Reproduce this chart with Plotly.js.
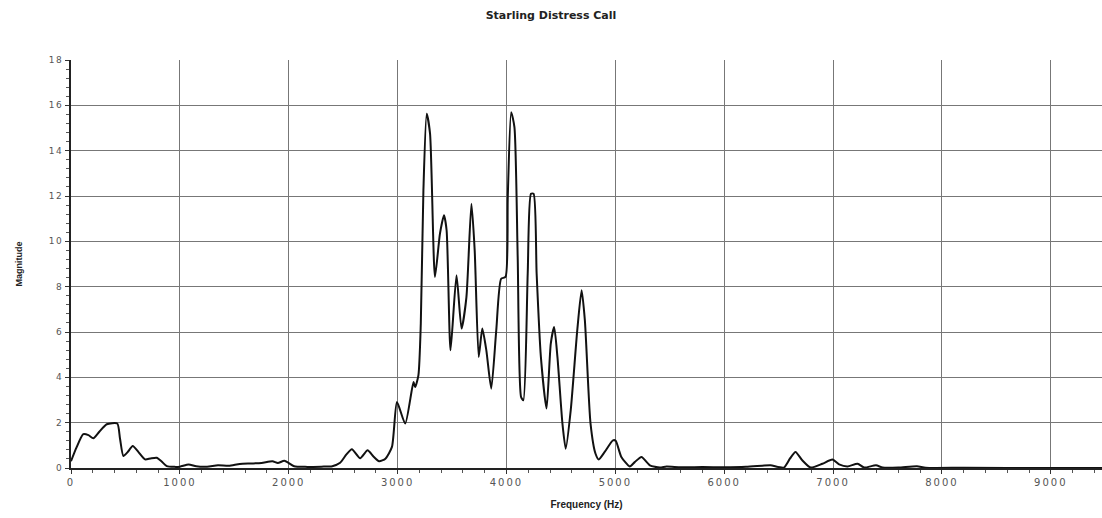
<!DOCTYPE html>
<html>
<head>
<meta charset="utf-8">
<script src="https://cdn.plot.ly/plotly-3.0.1.min.js"></script>
<style>
  html, body { margin: 0; padding: 0; background: #fff; }
  #chart { width: 1102px; height: 518px; }
  /* widen the tick numerals a little */
  #chart .xtick text { letter-spacing: 2px; }
  #chart .ytick text { letter-spacing: 1.5px; }
</style>
</head>
<body>
<div id="chart"></div>
<script>
// Frequency spectrum of a starling distress call
const freqHz = [
  0, 50, 113, 160, 205, 260, 328, 425, 450, 481, 520, 567, 620, 680, 730, 787, 830, 880, 950,
  1000, 1080, 1150, 1250, 1350, 1450, 1550, 1650, 1750, 1850, 1900, 1960, 2050, 2150, 2300, 2400,
  2472, 2530, 2580, 2656, 2724, 2780, 2830, 2888, 2948, 2994, 3070, 3146, 3161, 3191, 3213, 3237,
  3267, 3298, 3343, 3389, 3426, 3450, 3486, 3541, 3587, 3632, 3678, 3708, 3745, 3778, 3815, 3860,
  3906, 3951, 3991, 4012, 4043, 4073, 4103, 4134, 4155, 4195, 4225, 4249, 4277, 4316, 4368, 4407,
  4438, 4468, 4514, 4544, 4590, 4650, 4690, 4720, 4772, 4818, 4848, 4902, 4978, 5003, 5055, 5132,
  5178, 5240, 5317, 5409, 5470, 5600, 5800, 6000, 6200, 6350, 6425, 6548, 6603, 6655, 6717, 6794,
  6902, 6994, 7055, 7132, 7225, 7286, 7394, 7455, 7600, 7770, 7850, 8200, 9000, 9470
];
const magnitude = [
  0.3, 0.9, 1.49, 1.45, 1.31, 1.6, 1.93, 1.96, 1.3, 0.53, 0.7, 0.97, 0.7, 0.38, 0.42, 0.45, 0.3, 0.08, 0.05,
  0.06, 0.15, 0.08, 0.06, 0.12, 0.1, 0.18, 0.2, 0.22, 0.3, 0.22, 0.32, 0.08, 0.05, 0.06, 0.08,
  0.23, 0.6, 0.83, 0.43, 0.78, 0.5, 0.3, 0.41, 0.93, 2.91, 1.96, 3.79, 3.57, 4.09, 6.37, 12.25,
  15.63, 14.75, 8.43, 10.34, 11.15, 10.49, 5.19, 8.5, 6.15, 7.54, 11.66, 9.6, 4.9, 6.15, 5.19, 3.5,
  6.07, 8.35, 8.43, 12.0, 15.7, 15.04, 9.31, 3.13, 2.99, 8.57, 12.1, 12.1, 8.57, 4.9, 2.62, 5.49,
  6.22, 4.9, 1.96, 0.85, 2.54, 6.07, 7.84, 6.51, 1.96, 0.63, 0.38, 0.71, 1.22, 1.2, 0.49, 0.07,
  0.26, 0.49, 0.12, 0.02, 0.07, 0.03, 0.04, 0.03, 0.05, 0.1, 0.12, 0.02, 0.41, 0.71, 0.34, 0.02,
  0.19, 0.37, 0.16, 0.07, 0.19, 0.02, 0.12, 0.02, 0.02, 0.08, 0.01, 0.01, 0.0, 0.0
];
const xTicks = [0, 1000, 2000, 3000, 4000, 5000, 6000, 7000, 8000, 9000];
const yTicks = [0, 2, 4, 6, 8, 10, 12, 14, 16, 18];

const xTickFont = { family: 'DejaVu Sans, sans-serif', size: 10, color: '#555' };
const yTickFont = { family: 'DejaVu Sans, sans-serif', size: 9, color: '#555' };

Plotly.newPlot('chart', [{
  x: freqHz,
  y: magnitude,
  type: 'scatter',
  mode: 'lines',
  line: { color: '#111', width: 2, shape: 'spline', smoothing: 0.6 },
  hoverinfo: 'x+y'
}], {
  width: 1102,
  height: 518,
  margin: { l: 71, r: 0, t: 60, b: 50 },
  paper_bgcolor: '#fff',
  plot_bgcolor: '#fff',
  showlegend: false,
  title: {
    text: '<b>Starling Distress Call</b>',
    font: { family: 'DejaVu Sans, sans-serif', size: 11, color: '#222' },
    x: 0.5, xref: 'container', xanchor: 'center', y: 0.97, yanchor: 'middle'
  },
  xaxis: {
    range: [0, 9470],
    tickmode: 'array', tickvals: xTicks, ticktext: xTicks.map(String),
    tickfont: xTickFont,
    ticks: 'outside', ticklen: 4, tickcolor: '#333',
    showgrid: true, gridcolor: '#777', gridwidth: 1,
    showline: true, linecolor: '#222', linewidth: 2,
    zeroline: false,
    minor: { dtick: 200, ticks: 'outside', ticklen: 3, tickcolor: '#555', showgrid: false },
    title: { text: '<b>Frequency (Hz)</b>', font: { family: 'Liberation Sans, Arial, sans-serif', size: 10, color: '#222' }, standoff: 14 }
  },
  yaxis: {
    range: [0, 18],
    tickmode: 'array', tickvals: yTicks, ticktext: yTicks.map(String),
    tickfont: yTickFont,
    ticks: 'outside', ticklen: 4, tickcolor: '#333',
    showgrid: true, gridcolor: '#777', gridwidth: 1,
    showline: true, linecolor: '#222', linewidth: 2,
    zeroline: false,
    minor: { dtick: 0.4, tick0: 0, ticks: 'outside', ticklen: 3, tickcolor: '#555', showgrid: false },
    title: { text: '<b>Magnitude</b>', font: { family: 'Liberation Sans Narrow, Liberation Sans, Arial, sans-serif', size: 9, color: '#222' }, standoff: 28 }
  }
}, { displayModeBar: false, staticPlot: true });
</script>
</body>
</html>
